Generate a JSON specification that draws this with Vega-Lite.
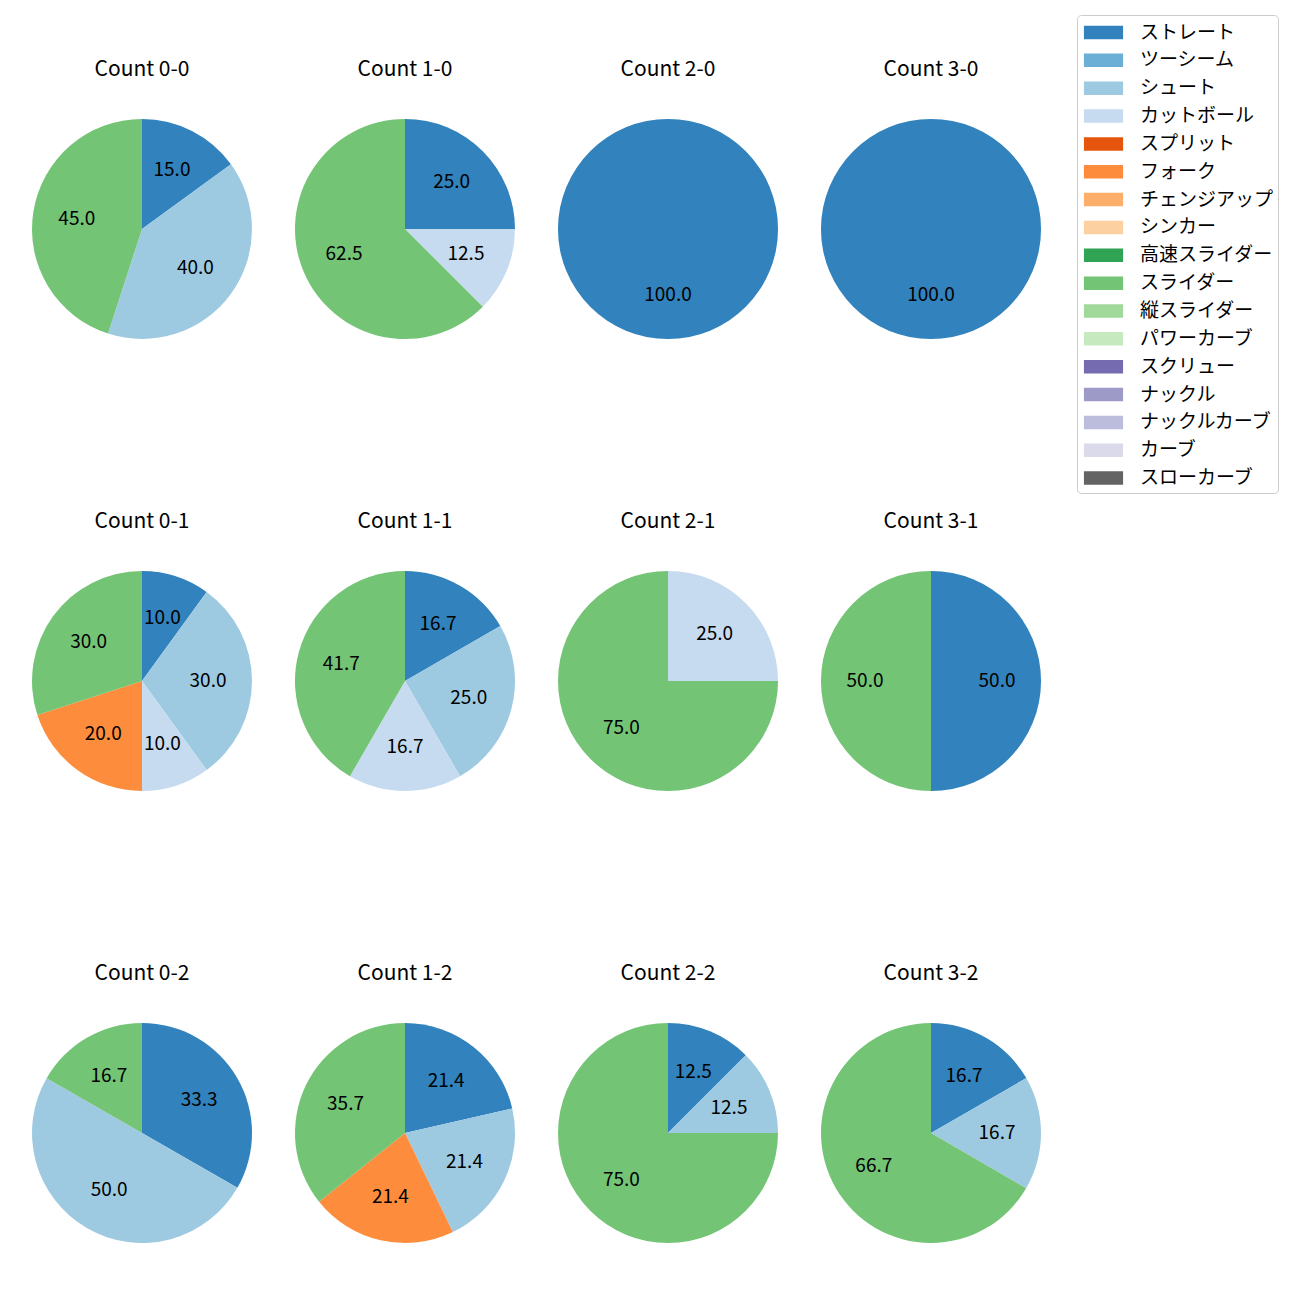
{
  "$schema": "https://vega.github.io/schema/vega-lite/v6.json",
  "padding": {"left": 27, "top": 14, "right": 5, "bottom": 5},
  "autosize": "pad",
  "background": "white",
  "data": {"values": [
    {"count": "Count 0-0", "pitch": "ストレート", "ord": 0, "value": 15.0},
    {"count": "Count 0-0", "pitch": "シュート", "ord": 2, "value": 40.0},
    {"count": "Count 0-0", "pitch": "スライダー", "ord": 9, "value": 45.0},
    {"count": "Count 1-0", "pitch": "ストレート", "ord": 0, "value": 25.0},
    {"count": "Count 1-0", "pitch": "カットボール", "ord": 3, "value": 12.5},
    {"count": "Count 1-0", "pitch": "スライダー", "ord": 9, "value": 62.5},
    {"count": "Count 2-0", "pitch": "ストレート", "ord": 0, "value": 100.0},
    {"count": "Count 3-0", "pitch": "ストレート", "ord": 0, "value": 100.0},
    {"count": "Count 0-1", "pitch": "ストレート", "ord": 0, "value": 10.0},
    {"count": "Count 0-1", "pitch": "シュート", "ord": 2, "value": 30.0},
    {"count": "Count 0-1", "pitch": "カットボール", "ord": 3, "value": 10.0},
    {"count": "Count 0-1", "pitch": "フォーク", "ord": 5, "value": 20.0},
    {"count": "Count 0-1", "pitch": "スライダー", "ord": 9, "value": 30.0},
    {"count": "Count 1-1", "pitch": "ストレート", "ord": 0, "value": 16.7},
    {"count": "Count 1-1", "pitch": "シュート", "ord": 2, "value": 25.0},
    {"count": "Count 1-1", "pitch": "カットボール", "ord": 3, "value": 16.7},
    {"count": "Count 1-1", "pitch": "スライダー", "ord": 9, "value": 41.7},
    {"count": "Count 2-1", "pitch": "カットボール", "ord": 3, "value": 25.0},
    {"count": "Count 2-1", "pitch": "スライダー", "ord": 9, "value": 75.0},
    {"count": "Count 3-1", "pitch": "ストレート", "ord": 0, "value": 50.0},
    {"count": "Count 3-1", "pitch": "スライダー", "ord": 9, "value": 50.0},
    {"count": "Count 0-2", "pitch": "ストレート", "ord": 0, "value": 33.3},
    {"count": "Count 0-2", "pitch": "シュート", "ord": 2, "value": 50.0},
    {"count": "Count 0-2", "pitch": "スライダー", "ord": 9, "value": 16.7},
    {"count": "Count 1-2", "pitch": "ストレート", "ord": 0, "value": 21.4},
    {"count": "Count 1-2", "pitch": "シュート", "ord": 2, "value": 21.4},
    {"count": "Count 1-2", "pitch": "フォーク", "ord": 5, "value": 21.4},
    {"count": "Count 1-2", "pitch": "スライダー", "ord": 9, "value": 35.7},
    {"count": "Count 2-2", "pitch": "ストレート", "ord": 0, "value": 12.5},
    {"count": "Count 2-2", "pitch": "シュート", "ord": 2, "value": 12.5},
    {"count": "Count 2-2", "pitch": "スライダー", "ord": 9, "value": 75.0},
    {"count": "Count 3-2", "pitch": "ストレート", "ord": 0, "value": 16.7},
    {"count": "Count 3-2", "pitch": "シュート", "ord": 2, "value": 16.7},
    {"count": "Count 3-2", "pitch": "スライダー", "ord": 9, "value": 66.7}
  ]},
  "facet": {
    "field": "count",
    "type": "nominal",
    "sort": ["Count 0-0", "Count 1-0", "Count 2-0", "Count 3-0", "Count 0-1", "Count 1-1", "Count 2-1", "Count 3-1", "Count 0-2", "Count 1-2", "Count 2-2", "Count 3-2"],
    "header": {"title": null, "labelFontSize": 21, "labelFont": "Noto Sans CJK JP", "labelColor": "#000000", "labelPadding": 34}
  },
  "columns": 4,
  "spacing": {"column": 33, "row": 167},
  "resolve": {"scale": {"theta": "independent"}},
  "spec": {
    "width": 230,
    "height": 230,
    "encoding": {
      "theta": {"field": "value", "type": "quantitative", "stack": "normalize"},
      "order": {"field": "ord", "type": "quantitative"}
    },
    "layer": [
      {
        "mark": {"type": "arc", "outerRadius": 110, "stroke": null},
        "encoding": {
          "color": {
            "field": "pitch",
            "type": "nominal",
            "scale": {
              "domain": ["ストレート", "ツーシーム", "シュート", "カットボール", "スプリット", "フォーク", "チェンジアップ", "シンカー", "高速スライダー", "スライダー", "縦スライダー", "パワーカーブ", "スクリュー", "ナックル", "ナックルカーブ", "カーブ", "スローカーブ"],
              "range": ["#3182bd", "#6baed6", "#9ecae1", "#c6dbef", "#e6550d", "#fd8d3c", "#fdae6b", "#fdd0a2", "#31a354", "#74c476", "#a1d99b", "#c7e9c0", "#756bb1", "#9e9ac8", "#bcbddc", "#dadaeb", "#636363"]
            },
            "legend": {
              "title": null,
              "orient": "none",
              "legendX": 1050,
              "legendY": -99,
              "labelFont": "Noto Sans CJK JP",
              "labelFontSize": 19,
              "labelColor": "#000000",
              "symbolType": "M-1.45,-0.5H1.45V0.5H-1.45Z",
              "symbolSize": 729,
              "symbolStrokeWidth": 0,
              "symbolOpacity": 1,
              "symbolOffset": 9,
              "rowPadding": 3.85,
              "labelOffset": 23,
              "padding": 4,
              "strokeColor": "#cccccc",
              "cornerRadius": 4,
              "fillColor": "white"
            }
          }
        }
      },
      {
        "mark": {"type": "text", "radius": 66, "fontSize": 19, "font": "Noto Sans CJK JP", "color": "#000000"},
        "encoding": {
          "text": {"field": "value", "type": "quantitative", "format": ".1f"}
        }
      }
    ]
  },
  "config": {"view": {"stroke": null}}
}
